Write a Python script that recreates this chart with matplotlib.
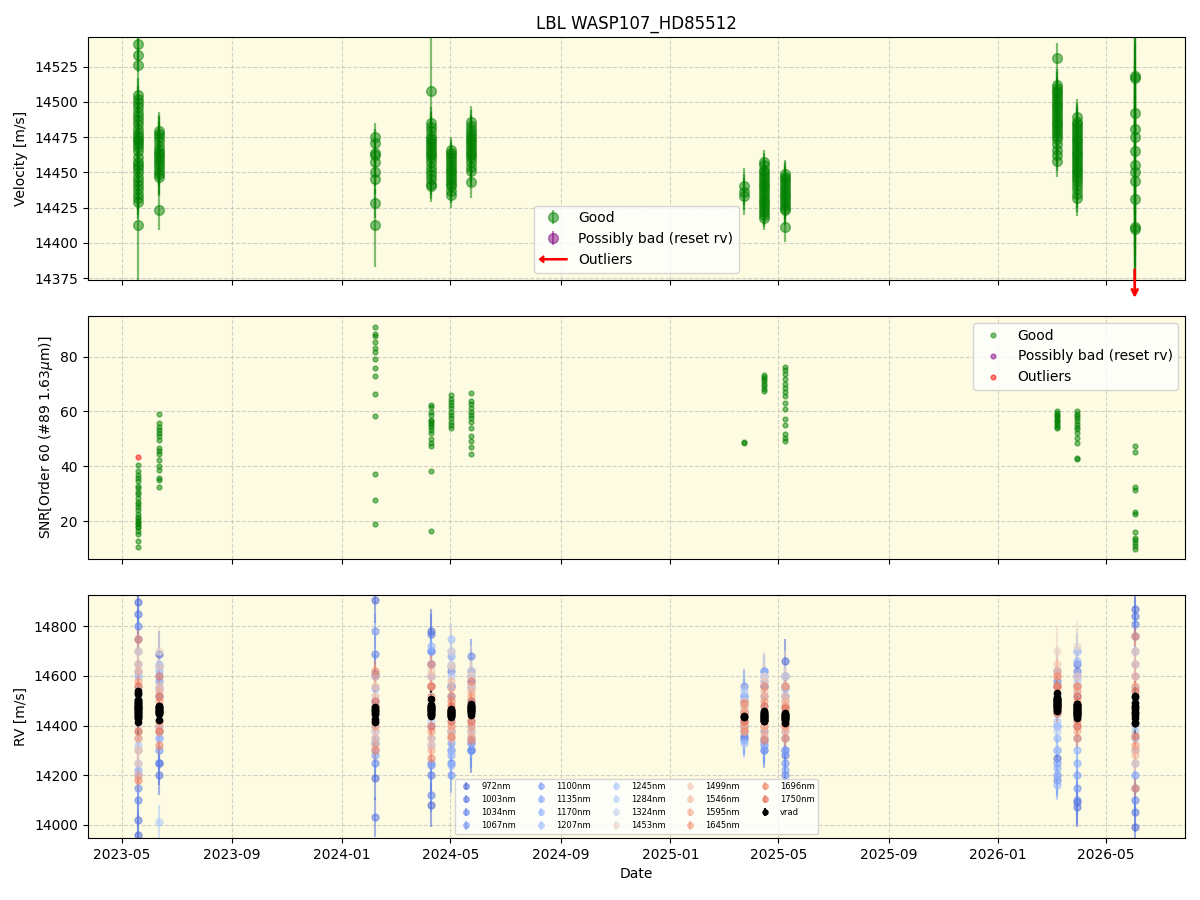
import numpy as np
import matplotlib
matplotlib.use("Agg")
import matplotlib.pyplot as plt
import matplotlib.dates as mdates
import matplotlib.patches as mpatches
from matplotlib.legend_handler import HandlerPatch

# observing nights (one cluster of points per night)
nights = ["2023-05-19", "2023-06-11", "2024-02-07", "2024-04-09", "2024-05-02", "2024-05-24",
          "2025-03-24", "2025-04-15", "2025-05-09", "2026-03-07", "2026-03-30", "2026-06-02"]

# velocity per night [m/s] and its error
velocity = [
    [14541, 14533, 14526, 14505, 14502, 14499, 14496, 14493, 14490, 14487, 14484, 14481, 14478,
     14476, 14474, 14472, 14470, 14468, 14465, 14461, 14457, 14455, 14453, 14450, 14447, 14444,
     14441, 14438, 14435, 14432, 14429, 14413],
    [14479, 14477, 14475, 14472, 14469, 14466, 14464, 14462, 14460, 14458, 14456, 14454, 14451,
     14449, 14447, 14423],
    [14475, 14471, 14464, 14462, 14457, 14450, 14445, 14428, 14413],
    [14508, 14485, 14482, 14479, 14476, 14474, 14472, 14470, 14468, 14466, 14464, 14462, 14460,
     14457, 14454, 14451, 14448, 14445, 14442, 14440],
    [14466, 14464, 14462, 14460, 14458, 14456, 14454, 14452, 14450, 14448, 14446, 14444, 14442,
     14440, 14437, 14434],
    [14486, 14483, 14480, 14478, 14476, 14474, 14472, 14470, 14468, 14466, 14464, 14462, 14460,
     14457, 14454, 14451, 14443],
    [14440, 14436, 14433],
    [14457, 14455, 14452, 14450, 14448, 14446, 14444, 14442, 14440, 14438, 14436, 14434, 14432,
     14430, 14428, 14426, 14424, 14422, 14420, 14418],
    [14449, 14447, 14445, 14443, 14441, 14439, 14437, 14435, 14433, 14431, 14429, 14427, 14425,
     14423, 14411],
    [14531, 14512, 14510, 14508, 14506, 14504, 14502, 14500, 14498, 14496, 14494, 14492, 14490,
     14488, 14486, 14484, 14482, 14480, 14478, 14476, 14474, 14470, 14466, 14462, 14458],
    [14489, 14486, 14484, 14482, 14480, 14478, 14476, 14474, 14472, 14470, 14468, 14466, 14464,
     14462, 14460, 14458, 14456, 14454, 14452, 14450, 14448, 14446, 14444, 14441, 14438, 14435,
     14432],
    [14518, 14517, 14492, 14481, 14475, 14465, 14455, 14450, 14444, 14431, 14411, 14410],
]
velocity_err = [
    [12] * 31 + [45],
    [14] * 16,
    [10] * 8 + [30],
    [45] + [11] * 19,
    [9] * 16,
    [11] * 17,
    [13] * 3,
    [9] * 20,
    [10] * 15,
    [11] * 25,
    [13] * 27,
    [35, 40, 60, 60, 55, 60, 60, 60, 60, 60, 40, 45],
]
outlier_night = "2026-06-02"

# SNR in order 60 per night
snr = [
    [40.4, 38.2, 37.0, 35.8, 34.6, 33.0, 32.2, 30.5, 29.8, 28.6, 27.0, 26.2, 25.0, 24.0, 22.5,
     21.5, 20.7, 20.0, 19.5, 18.9, 18.0, 17.7, 16.5, 15.3, 12.9, 10.5],
    [59.0, 55.7, 54.5, 53.3, 52.1, 51.0, 49.7, 46.7, 45.5, 44.5, 42.4, 40.0, 38.8, 35.8, 35.0, 32.5],
    [90.8, 88.2, 87.6, 85.2, 83.1, 81.8, 79.2, 75.9, 72.8, 66.2, 58.2, 37.2, 27.8, 18.8],
    [62.5, 61.6, 59.9, 58.7, 57.0, 56.5, 55.7, 55.0, 54.5, 53.3, 52.1, 50.1, 48.5, 47.3, 38.3, 16.3],
    [65.9, 64.7, 63.5, 62.3, 61.1, 59.9, 58.7, 57.5, 56.3, 55.1, 53.9],
    [66.8, 63.7, 62.9, 61.1, 59.9, 58.7, 57.5, 56.3, 53.9, 50.9, 49.3, 47.0, 44.5],
    [49.0, 48.4],
    [73.2, 72.5, 71.8, 71.0, 70.0, 69.2, 68.3, 67.5],
    [76.4, 75.2, 73.5, 71.8, 70.0, 68.6, 67.0, 65.5, 63.0, 61.0, 57.3, 55.0, 51.8, 50.5, 49.4],
    [60.0, 59.4, 58.8, 58.2, 57.6, 57.0, 56.4, 55.8, 55.2, 54.5, 53.8],
    [60.0, 59.2, 58.4, 57.5, 56.5, 55.5, 54.5, 53.5, 52.0, 50.5, 48.5, 43.2, 42.8],
    [47.3, 45.2, 32.5, 31.2, 23.5, 22.7, 16.0, 14.0, 13.0, 12.0, 11.0, 10.0],
]
snr_outlier_night = "2023-05-19"
snr_outlier = [43.4]

# per-band RV, two values per night (same night order as above)
bands = [972, 1003, 1034, 1067, 1100, 1135, 1170, 1207, 1245, 1284, 1324, 1453,
         1499, 1546, 1595, 1645, 1696, 1750]
band_err = [90, 80, 70, 70, 60, 60, 60, 60, 70, 80, 90, 100, 70, 60, 50, 50, 40, 40]
band_rv = [
    [14900, 13960, 14690, 14250, 14905, 14190, 14780, 14080, 14380, 14560, 14300, 14620,
     14380, 14500, 14560, 14340, 14660, 14300, 14270, 14560, 14090, 14600, 14870, 13990],
    [14850, 14020, 14200, 14520, 14030, 14610, 14770, 14200, 14300, 14520, 14580, 14330,
     14420, 14360, 14520, 14380, 14600, 14280, 14200, 14620, 14070, 14650, 14840, 14050],
    [14800, 14100, 14250, 14640, 14690, 14250, 14120, 14700, 14250, 14620, 14680, 14300,
     14450, 14350, 14600, 14300, 14550, 14200, 14180, 14580, 14100, 14620, 14810, 14100],
    [14750, 14150, 14600, 14300, 14780, 14330, 14650, 14240, 14200, 14560, 14350, 14600,
     14560, 14400, 14620, 14320, 14560, 14250, 14300, 14520, 14150, 14700, 14760, 14150],
    [14700, 14200, 14350, 14580, 14600, 14280, 14250, 14700, 14640, 14330, 14300, 14560,
     14340, 14520, 14300, 14580, 14220, 14520, 14250, 14450, 14200, 14560, 14700, 14200],
    [14650, 14220, 14400, 14550, 14550, 14350, 14320, 14600, 14280, 14680, 14620, 14380,
     14400, 14520, 14350, 14620, 14300, 14600, 14230, 14400, 14250, 14520, 14650, 14250],
    [14600, 14250, 14380, 14620, 14500, 14300, 14350, 14720, 14700, 14240, 14330, 14500,
     14480, 14400, 14330, 14560, 14350, 14520, 14350, 14160, 14300, 14660, 14600, 14300],
    [14620, 14300, 14650, 14350, 14450, 14380, 14400, 14650, 14750, 14300, 14400, 14550,
     14520, 14330, 14400, 14600, 14380, 14480, 14400, 14200, 14350, 14600, 14550, 14350],
    [14550, 14320, 14010, 14550, 14500, 14400, 14450, 14600, 14560, 14350, 14450, 14600,
     14540, 14380, 14440, 14560, 14400, 14550, 14300, 14420, 14400, 14580, 14500, 14380],
    [14520, 14350, 14480, 14380, 14480, 14420, 14420, 14560, 14600, 14380, 14500, 14420,
     14460, 14420, 14480, 14600, 14420, 14560, 14380, 14560, 14420, 14540, 14480, 14400],
    [14500, 14380, 14520, 14420, 14520, 14440, 14480, 14520, 14650, 14420, 14560, 14450,
     14480, 14430, 14520, 14460, 14500, 14460, 14450, 14620, 14460, 14700, 14520, 14420],
    [14480, 14400, 14700, 14450, 14470, 14450, 14500, 14560, 14700, 14460, 14620, 14480,
     14460, 14440, 14600, 14420, 14600, 14480, 14700, 14550, 14720, 14480, 14460, 14440],
    [14700, 14250, 14640, 14420, 14520, 14380, 14620, 14320, 14640, 14400, 14600, 14420,
     14500, 14380, 14580, 14400, 14560, 14420, 14650, 14500, 14600, 14430, 14700, 14250],
    [14650, 14300, 14560, 14380, 14560, 14350, 14600, 14350, 14580, 14380, 14560, 14380,
     14480, 14400, 14540, 14380, 14520, 14400, 14600, 14480, 14560, 14400, 14650, 14280],
    [14620, 14200, 14540, 14400, 14600, 14320, 14560, 14300, 14550, 14350, 14540, 14360,
     14450, 14420, 14520, 14360, 14500, 14380, 14620, 14460, 14540, 14380, 14600, 14300],
    [14580, 14350, 14500, 14420, 14480, 14400, 14520, 14380, 14520, 14400, 14520, 14400,
     14460, 14400, 14500, 14400, 14480, 14400, 14560, 14480, 14500, 14420, 14560, 14320],
    [14750, 14180, 14600, 14320, 14620, 14300, 14650, 14270, 14500, 14360, 14580, 14340,
     14490, 14380, 14560, 14340, 14560, 14350, 14600, 14450, 14560, 14350, 14760, 14150],
    [14560, 14380, 14520, 14380, 14500, 14420, 14560, 14400, 14480, 14420, 14500, 14420,
     14440, 14420, 14480, 14420, 14470, 14410, 14560, 14460, 14520, 14400, 14540, 14360],
]

bg = "#fdfbe1"
night_dates = [mdates.datestr2num(d) for d in nights]


def spread(values_per_night):
    xs, ys = [], []
    for d, vals in zip(night_dates, values_per_night):
        xs += [d] * len(vals)
        ys += list(vals)
    return np.array(xs), np.array(ys)


def make_arrow(legend, orig_handle, xdescent, ydescent, width, height, fontsize):
    return mpatches.FancyArrow(width, 0.5 * height, -width, 0, width=0.12 * height,
                               length_includes_head=True, head_width=0.7 * height,
                               head_length=0.45 * height, color="red")


fig, axes = plt.subplots(3, 1, figsize=(12, 9), dpi=100, sharex=True)
plt.subplots_adjust(left=0.073, right=0.9875, top=0.959, bottom=0.069, hspace=0.15)

# top: velocity
ax = axes[0]
x, y = spread(velocity)
_, e = spread(velocity_err)
h_good = ax.errorbar(x, y, yerr=e, fmt="o", color="green", ms=7, elinewidth=1.6, alpha=0.5, label="Good")
h_bad = ax.errorbar([], [], yerr=[], fmt="o", color="purple", ms=7, alpha=0.5, label="Possibly bad (reset rv)")
d_out = mdates.datestr2num(outlier_night)
ax.annotate("", xy=(d_out, 14359), xytext=(d_out, 14383), annotation_clip=False,
            arrowprops=dict(arrowstyle="->", color="red", lw=2))
arrow_handle = mpatches.Patch(color="red", label="Outliers")
ax.legend(handles=[h_good, h_bad, arrow_handle], loc="lower center",
          handler_map={mpatches.Patch: HandlerPatch(patch_func=make_arrow)})
ax.set_ylim(14374, 14546)
ax.set_yticks(np.arange(14375, 14526, 25))
ax.set_ylabel("Velocity [m/s]")
ax.set_title("LBL WASP107_HD85512")

# middle: SNR
ax = axes[1]
x, y = spread(snr)
ax.plot(x, y, "o", color="green", ms=3.5, alpha=0.5, label="Good")
ax.plot([], [], "o", color="purple", ms=3.5, alpha=0.5, label="Possibly bad (reset rv)")
ax.plot([mdates.datestr2num(snr_outlier_night)] * len(snr_outlier), snr_outlier, "o",
        color="red", ms=3.5, alpha=0.5, label="Outliers")
ax.legend(loc="upper right")
ax.set_ylim(6.3, 94.8)
ax.set_ylabel(r"SNR[Order 60 (#89 1.63$\mu$m)]")

# bottom: RV per band
ax = axes[2]
cmap = plt.get_cmap("coolwarm")
band_x = np.repeat(night_dates, 2)
for w, vals, err in zip(bands, band_rv, band_err):
    c = cmap((w - 900) / 1000)
    ax.errorbar(band_x, vals, yerr=err, fmt="o", color=c, ms=5, alpha=0.55, label=f"{w}nm")
x, y = spread(velocity)
ax.errorbar(x, y, yerr=e, fmt="o", color="black", ms=4.5, label="vrad")
ax.legend(loc="lower center", ncol=5, fontsize=6, markerscale=0.8)
ax.set_ylim(13947, 14926)
ax.set_ylabel("RV [m/s]")
ax.set_xlabel("Date")

for ax in axes:
    ax.set_facecolor(bg)
    ax.grid(True, linestyle="--", color="0.75", alpha=0.7)

axes[2].xaxis.set_major_locator(mdates.MonthLocator(bymonth=[1, 5, 9]))
axes[2].xaxis.set_major_formatter(mdates.DateFormatter("%Y-%m"))
axes[2].set_xlim(mdates.datestr2num("2023-03-24"), mdates.datestr2num("2026-07-28"))

fig.savefig("out.png", dpi=100)
